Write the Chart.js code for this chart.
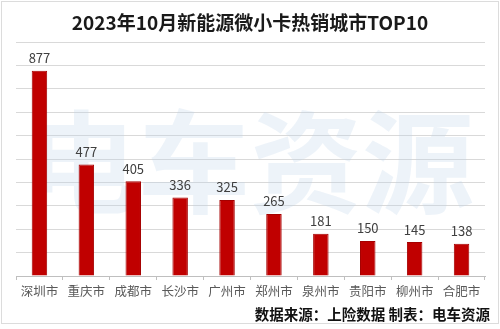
<!DOCTYPE html>
<html>
<head>
<meta charset="utf-8">
<script src="https://cdn.jsdelivr.net/npm/chart.js@4"></script>
<style>
  html, body { margin: 0; padding: 0; background: #fff; }
  #wrap { width: 500px; height: 329px; position: relative; }
</style>
</head>
<body>
<div id="wrap"><canvas id="chart"></canvas></div>
<script>
const cities = ['深圳市', '重庆市', '成都市', '长沙市', '广州市', '郑州市', '泉州市', '贵阳市', '柳州市', '合肥市']
const sales = [877, 477, 405, 336, 325, 265, 181, 150, 145, 138]
const titleText = '2023年10月新能源微小卡热销城市TOP10'
const sourceText = '数据来源：上险数据 制表：电车资源'
const markText = '电车资源'

const FONT = '"Noto Sans CJK SC", "Noto Sans", sans-serif'

// frame, title, watermark, value labels and source line
const decor = {
  id: 'decor',
  beforeDraw(chart) {
    const ctx = chart.ctx
    ctx.save()
    ctx.fillStyle = '#fff'
    ctx.fillRect(0, 0, chart.width, chart.height)
    ctx.strokeStyle = '#dcdcdc'
    ctx.lineWidth = 1
    ctx.strokeRect(1.5, 1.5, chart.width - 3, 322)
    ctx.fillStyle = '#1a1a1a'
    ctx.font = 'bold 19px ' + FONT
    ctx.textAlign = 'center'
    ctx.textBaseline = 'middle'
    ctx.fillText(titleText, chart.width / 2, 23)
    ctx.restore()
  },
  beforeDatasetsDraw(chart) {
    const ctx = chart.ctx
    ctx.save()
    ctx.fillStyle = 'rgba(190, 212, 232, 0.28)'
    ctx.font = 'bold 112px ' + FONT
    ctx.textAlign = 'center'
    ctx.textBaseline = 'middle'
    ctx.fillText(markText, chart.width / 2, 162)
    ctx.restore()
  },
  afterDatasetsDraw(chart) {
    const ctx = chart.ctx
    const meta = chart.getDatasetMeta(0)
    ctx.save()
    ctx.fillStyle = '#404040'
    ctx.font = '13px ' + FONT
    ctx.textAlign = 'center'
    ctx.textBaseline = 'bottom'
    meta.data.forEach((bar, i) => {
      ctx.fillText(String(sales[i]), bar.x, bar.y - 6)
    })
    ctx.fillStyle = '#111'
    ctx.font = 'bold 14.5px ' + FONT
    ctx.textAlign = 'right'
    ctx.textBaseline = 'middle'
    ctx.fillText(sourceText, 490, 314)
    ctx.restore()
  }
}

let chart = new Chart(document.querySelector('#chart'), {
  type: 'bar',
  data: {
    labels: cities,
    datasets: [{
      data: sales,
      backgroundColor: '#c00000',
      borderColor: '#a50000',
      borderWidth: 1,
      categoryPercentage: 1,
      barPercentage: 0.33
    }]
  },
  options: {
    responsive: true,
    maintainAspectRatio: false,
    animation: false,
    layout: { padding: { top: 42, left: 16, right: 15, bottom: 26 } },
    plugins: {
      legend: { display: false },
      title: { display: false },
      tooltip: { enabled: false }
    },
    scales: {
      x: {
        grid: { drawOnChartArea: false, drawTicks: true, tickLength: 4, color: '#bfbfbf', offset: true },
        border: { display: true, color: '#bfbfbf' },
        ticks: { color: '#595959', font: { family: FONT, size: 12.5 }, padding: 4, maxRotation: 0, autoSkip: false }
      },
      y: {
        min: 0,
        max: 1000,
        ticks: { display: false, stepSize: 100 },
        grid: { color: '#d9d9d9', drawTicks: false },
        border: { display: false },
        afterFit: s => { s.width = 0 }
      }
    }
  },
  plugins: [decor]
})
</script>
</body>
</html>
